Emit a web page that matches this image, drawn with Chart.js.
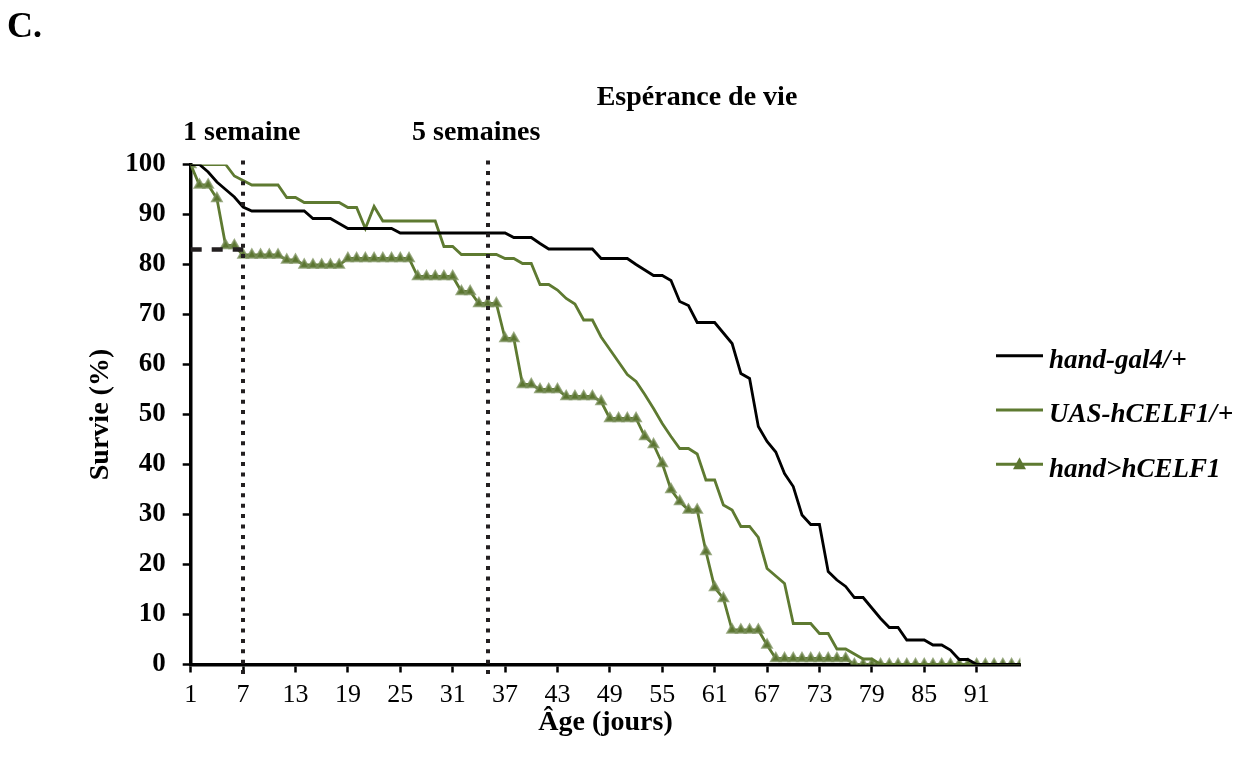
<!DOCTYPE html>
<html><head><meta charset="utf-8">
<script src="https://cdn.jsdelivr.net/npm/chart.js@4/dist/chart.umd.min.js"></script>
<style>html,body{margin:0;padding:0;background:#fff;overflow:hidden}</style>
</head><body>
<canvas id="c" width="1245" height="765"></canvas>
<script>
// ---- data ----
const days = Array.from({length: 96}, (_, i) => i + 1);
const xTickDays = [1, 7, 13, 19, 25, 31, 37, 43, 49, 55, 61, 67, 73, 79, 85, 91];
const weekMarks = [7, 35];
const survivalAt1Week = 83;
const seriesNames = ['hand-gal4/+', 'UAS-hCELF1/+', 'hand>hCELF1'];

const handGal4 = [
  100,100,98.5,96.5,95,93.5,91.5,90.7,90.7,90.7,
  90.7,90.7,90.7,90.7,89.2,89.2,89.2,88.2,87.2,87.2,
  87.2,87.2,87.2,87.2,86.3,86.3,86.3,86.3,86.3,86.3,
  86.3,86.3,86.3,86.3,86.3,86.3,86.3,85.4,85.4,85.4,
  84.2,83.1,83.1,83.1,83.1,83.1,83.1,81.2,81.2,81.2,
  81.2,80,78.9,77.8,77.8,76.8,72.6,71.8,68.4,68.4,
  68.4,66.3,64.2,58.2,57.2,47.6,44.6,42.5,38.2,35.6,
  29.9,28,28,18.6,16.9,15.6,13.4,13.4,11.3,9.2,
  7.4,7.4,4.9,4.9,4.9,3.9,3.9,2.9,1,1,
  0,0,0,0,0,0];

const uasHCELF1 = [
  100,100,100,100,100,97.7,96.8,95.9,95.9,95.9,
  95.9,93.4,93.4,92.4,92.4,92.4,92.4,92.4,91.4,91.4,
  87.2,91.6,88.7,88.7,88.7,88.7,88.7,88.7,88.7,83.6,
  83.6,82,82,82,82,82,81.2,81.2,80.2,80.2,
  76,76,74.9,73.2,72.1,68.9,68.9,65.5,63,60.5,
  58,56.6,54,51.2,48.2,45.6,43.2,43.2,42.1,36.9,
  36.9,31.9,30.9,27.6,27.6,25.4,19.2,17.7,16.2,8.2,
  8.2,8.2,6.2,6.2,3.1,3.1,2.1,1.1,1.1,0,
  0,0,0,0,0,0,0,0,0,0,
  0,0,0,0,0,0];

const handHCELF1 = [
  100,95.9,95.9,93.2,83.8,83.8,81.9,81.9,81.9,81.9,
  81.9,80.9,80.9,79.9,79.9,79.9,79.9,79.9,81.2,81.2,
  81.2,81.2,81.2,81.2,81.2,81.2,77.6,77.6,77.6,77.6,
  77.6,74.6,74.6,72.2,72.2,72.2,65.2,65.2,56,56,
  55,55,55,53.6,53.6,53.6,53.6,52.6,49.2,49.2,
  49.2,49.2,45.6,44,40.2,35,32.6,30.9,30.9,22.6,
  15.4,13.2,6.9,6.9,6.9,6.9,3.9,1.2,1.2,1.2,
  1.2,1.2,1.2,1.2,1.2,1.2,0,0,0,0,
  0,0,0,0,0,0,0,0,0,0,
  0,0,0,0,0,0];

// ---- styling ----
const SERIF = '"Liberation Serif", "Times New Roman", serif';
const BLACK = '#000000';
const OLIVE = '#5e7a31';
const OLIVE_MK = '#5b7530';

const toXY = arr => arr.map((v, i) => ({x: days[i], y: v}));

const extras = {
  id: 'extras',
  afterDatasetsDraw(chart) {
    const {ctx, chartArea: a, scales: {x, y}} = chart;
    ctx.save();
    ctx.strokeStyle = '#231f20';
    ctx.lineCap = 'butt';
    ctx.lineWidth = 4;
    ctx.setLineDash([4, 6.4]);
    weekMarks.forEach(d => {
      const px = Math.round(x.getPixelForValue(d));
      ctx.beginPath(); ctx.moveTo(px, a.top - 4); ctx.lineTo(px, a.bottom + 11); ctx.stroke();
    });
    ctx.setLineDash([11, 10]);
    ctx.lineWidth = 4.5;
    const py = y.getPixelForValue(survivalAt1Week);
    ctx.beginPath(); ctx.moveTo(a.left, py); ctx.lineTo(x.getPixelForValue(weekMarks[0]), py); ctx.stroke();
    ctx.restore();
  },
  afterDraw(chart) {
    const {ctx} = chart;
    ctx.save();
    ctx.fillStyle = '#000';
    ctx.textBaseline = 'alphabetic';
    ctx.textAlign = 'left';
    ctx.font = 'bold 36px ' + SERIF;
    ctx.fillText('C.', 7, 37);
    ctx.font = 'bold 28px ' + SERIF;
    ctx.textAlign = 'center';
    ctx.fillText('Espérance de vie', 697, 105);
    ctx.textAlign = 'left';
    ctx.fillText('1 semaine', 183, 140);
    ctx.fillText('5 semaines', 412, 140);

    // legend
    const rows = [355.7, 410, 464.3];
    const colors = [BLACK, OLIVE, OLIVE];
    rows.forEach((ry, i) => {
      ctx.strokeStyle = colors[i];
      ctx.lineWidth = 3;
      ctx.setLineDash([]);
      ctx.beginPath(); ctx.moveTo(996, ry); ctx.lineTo(1043, ry); ctx.stroke();
      if (i === 2) {
        ctx.fillStyle = OLIVE_MK;
        ctx.beginPath();
        ctx.moveTo(1019.5, ry - 7); ctx.lineTo(1026, ry + 5); ctx.lineTo(1013, ry + 5); ctx.closePath();
        ctx.fill();
      }
      ctx.fillStyle = '#000';
      const name = seriesNames[i];
      const ix = name.endsWith('/+') ? name.length - 1 : name.length;
      const ital = name.slice(0, ix), rest = name.slice(ix);
      ctx.font = 'italic bold 27px ' + SERIF;
      ctx.fillText(ital, 1049, ry + 12.4);
      const w = ctx.measureText(ital).width;
      if (rest) {
        ctx.font = 'bold 27px ' + SERIF;
        ctx.fillText(rest, 1049 + w + 1, ry + 12.4);
      }
    });
    ctx.restore();
  }
};

new Chart(document.getElementById('c'), {
  type: 'line',
  data: {
    datasets: [
      {label: seriesNames[0], data: toXY(handGal4), borderColor: BLACK, borderWidth: 2.8,
       pointRadius: 0, tension: 0, fill: false},
      {label: seriesNames[1], data: toXY(uasHCELF1), borderColor: OLIVE, borderWidth: 2.8,
       pointRadius: 0, tension: 0, fill: false},
      {label: seriesNames[2], data: toXY(handHCELF1), borderColor: OLIVE, borderWidth: 2.8,
       pointStyle: 'triangle', pointRadius: 5.5, pointBackgroundColor: OLIVE_MK,
       pointBorderColor: 'rgba(120,142,88,0.75)', pointBorderWidth: 2, tension: 0, fill: false}
    ]
  },
  options: {
    responsive: false,
    devicePixelRatio: 1,
    animation: false,
    layout: {padding: {left: 60, right: 224.7, top: 164.5, bottom: 20}},
    plugins: {legend: {display: false}, tooltip: {enabled: false}, title: {display: false}},
    scales: {
      x: {
        type: 'linear', min: 1, max: 96,
        afterBuildTicks: s => { s.ticks = xTickDays.map(v => ({value: v})); },
        afterFit: s => { s.height = 80.5; },
        grid: {drawOnChartArea: false, drawTicks: true, tickLength: 8, tickColor: '#000', tickWidth: 2.5},
        border: {display: true, color: '#000', width: 3.5},
        ticks: {autoSkip: false, maxRotation: 0, padding: 7, color: '#000',
                font: {family: SERIF, size: 26}, callback: v => String(v)},
        title: {display: true, text: 'Âge (jours)', color: '#000',
                font: {family: SERIF, size: 28, weight: 'bold'}, padding: {top: 0, bottom: 5}}
      },
      y: {
        min: 0, max: 100,
        afterFit: s => { s.width = 130.7; },
        grid: {drawOnChartArea: false, drawTicks: true, tickLength: 8, tickColor: '#000', tickWidth: 2.5},
        border: {display: true, color: '#000', width: 3.5},
        ticks: {stepSize: 10, padding: 17, color: '#000',
                font: {family: SERIF, size: 27, weight: 'bold'}},
        title: {display: true, text: 'Survie (%)', color: '#000',
                font: {family: SERIF, size: 28, weight: 'bold'}, padding: {top: 24, bottom: 0}}
      }
    }
  },
  plugins: [extras]
});
</script>
</body></html>
